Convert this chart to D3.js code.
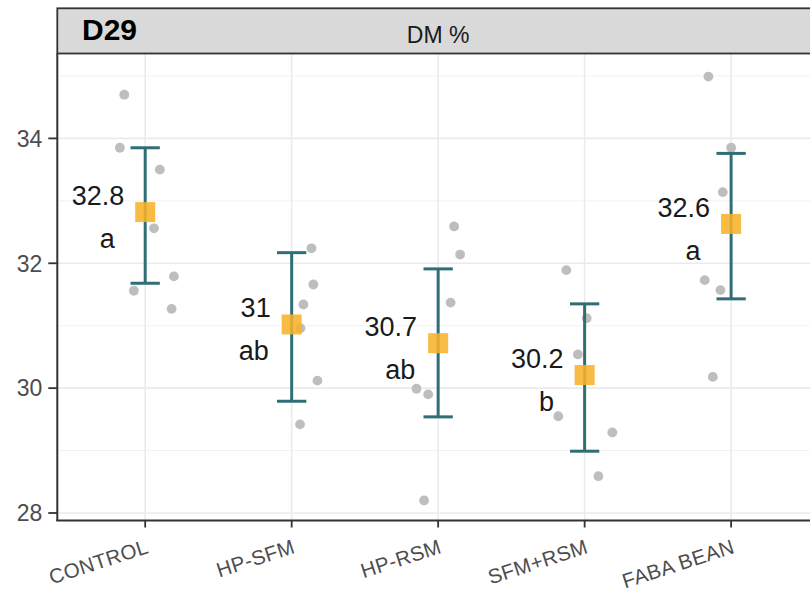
<!DOCTYPE html>
<html>
<head>
<meta charset="utf-8">
<script src="https://cdn.jsdelivr.net/npm/d3@7"></script>
<style>
  html, body { margin: 0; padding: 0; background: #fff; }
  svg { display: block; font-family: "Liberation Sans", Arial, sans-serif; }
</style>
</head>
<body>
<svg id="chart" width="810" height="594"></svg>
<script>
// ---- data ----
const categories = ["CONTROL", "HP-SFM", "HP-RSM", "SFM+RSM", "FABA BEAN"];
const means = [32.82, 31.02, 30.72, 30.21, 32.63];
const lower = [31.68, 29.79, 29.54, 28.99, 31.43];
const upper = [33.85, 32.17, 31.91, 31.35, 33.76];
const meanLabels = ["32.8", "31", "30.7", "30.2", "32.6"];
const groupLetters = ["a", "ab", "ab", "b", "a"];
// individual observations per category
const obsValues = [
  [34.70, 33.85, 33.50, 32.56, 31.79, 31.56, 31.27],
  [32.24, 31.66, 31.34, 30.96, 30.12, 29.42],
  [32.59, 32.14, 31.37, 29.99, 29.90, 28.20],
  [31.89, 31.12, 30.54, 29.55, 29.29, 28.59],
  [34.99, 33.85, 33.14, 31.73, 31.57, 30.18]
];
// horizontal jitter of each observation (in category units)
const obsJitter = [
  [-0.143, -0.173, 0.10, 0.06, 0.196, -0.077, 0.18],
  [0.135, 0.148, 0.08, 0.06, 0.176, 0.057],
  [0.109, 0.15, 0.085, -0.148, -0.068, -0.096],
  [-0.125, 0.014, -0.046, -0.18, 0.189, 0.094],
  [-0.155, 0.0, -0.057, -0.18, -0.073, -0.125]
];
const yTicks = [28, 30, 32, 34];
const yMinorTicks = [29, 31, 33, 35];
const panelTag = "D29";
const stripTitle = "DM %";

// ---- layout ----
const svg = d3.select("#chart");
const panel = { left: 57.3, right: 819, top: 53.5, bottom: 520.5 };
const strip = { top: 8.3 };

const x = d3.scaleLinear().domain([0.4, categories.length + 0.6]).range([panel.left, panel.right]);
const y = d3.scaleLinear().domain([27.88, 35.36]).range([panel.bottom, panel.top]);

const idx = categories.map((c, i) => i + 1);

// grid
const grid = svg.append("g");
grid.selectAll("line.minor").data(yMinorTicks).enter().append("line")
  .attr("x1", panel.left).attr("x2", panel.right)
  .attr("y1", d => y(d)).attr("y2", d => y(d))
  .attr("stroke", "#f2f2f2").attr("stroke-width", 1);
grid.selectAll("line.majory").data(yTicks).enter().append("line")
  .attr("x1", panel.left).attr("x2", panel.right)
  .attr("y1", d => y(d)).attr("y2", d => y(d))
  .attr("stroke", "#ebebeb").attr("stroke-width", 1.6);
grid.selectAll("line.majorx").data(idx).enter().append("line")
  .attr("x1", d => x(d)).attr("x2", d => x(d))
  .attr("y1", panel.top).attr("y2", panel.bottom)
  .attr("stroke", "#ebebeb").attr("stroke-width", 1.6);

// observation points
const pts = [];
obsValues.forEach((vals, i) => vals.forEach((v, j) => pts.push({ xi: i + 1 + obsJitter[i][j], v })));
svg.append("g").selectAll("circle").data(pts).enter().append("circle")
  .attr("cx", d => x(d.xi)).attr("cy", d => y(d.v)).attr("r", 4.9)
  .attr("fill", "#bebebe");

// error bars
const teal = "#2e6e74";
const eb = svg.append("g").attr("stroke", teal).attr("stroke-width", 3).attr("fill", "none");
const capHalf = 0.1;
categories.forEach((c, i) => {
  const xi = i + 1;
  eb.append("line").attr("x1", x(xi)).attr("x2", x(xi)).attr("y1", y(lower[i])).attr("y2", y(upper[i]));
  eb.append("line").attr("x1", x(xi - capHalf)).attr("x2", x(xi + capHalf)).attr("y1", y(upper[i])).attr("y2", y(upper[i]));
  eb.append("line").attr("x1", x(xi - capHalf)).attr("x2", x(xi + capHalf)).attr("y1", y(lower[i])).attr("y2", y(lower[i]));
});

// mean squares
const sq = 20;
svg.append("g").selectAll("rect").data(means).enter().append("rect")
  .attr("x", (d, i) => x(i + 1) - sq / 2).attr("y", d => y(d) - sq / 2)
  .attr("width", sq).attr("height", sq)
  .attr("fill", "#f7b22a").attr("fill-opacity", 0.88);

// mean labels
svg.append("g").selectAll("text").data(meanLabels).enter().append("text")
  .attr("x", (d, i) => x(i + 1) - 21).attr("y", (d, i) => y(means[i]) - 7)
  .attr("text-anchor", "end").attr("font-size", 27).attr("fill", "#1a1a1a")
  .text(d => d);
svg.append("g").selectAll("text").data(groupLetters).enter().append("text")
  .attr("x", (d, i) => x(i + 1) - 38).attr("y", (d, i) => y(means[i]) + 36)
  .attr("text-anchor", "middle").attr("font-size", 27).attr("fill", "#1a1a1a")
  .text(d => d);

// axes lines
svg.append("line").attr("x1", panel.left).attr("x2", panel.left).attr("y1", panel.top).attr("y2", panel.bottom + 0.5)
  .attr("stroke", "#333").attr("stroke-width", 2);
svg.append("line").attr("x1", panel.left - 1).attr("x2", 810).attr("y1", panel.bottom).attr("y2", panel.bottom)
  .attr("stroke", "#333").attr("stroke-width", 2);

// y ticks
const yt = svg.append("g");
yt.selectAll("line").data(yTicks).enter().append("line")
  .attr("x1", panel.left - 9).attr("x2", panel.left).attr("y1", d => y(d)).attr("y2", d => y(d))
  .attr("stroke", "#333").attr("stroke-width", 1.8);
yt.selectAll("text").data(yTicks).enter().append("text")
  .attr("x", panel.left - 15).attr("y", d => y(d)).attr("dy", "0.36em")
  .attr("text-anchor", "end").attr("font-size", 23).attr("fill", "#4d4d4d")
  .text(d => d);

// x ticks
const xt = svg.append("g");
xt.selectAll("line").data(idx).enter().append("line")
  .attr("x1", d => x(d)).attr("x2", d => x(d)).attr("y1", panel.bottom).attr("y2", panel.bottom + 7)
  .attr("stroke", "#333").attr("stroke-width", 1.8);
xt.selectAll("text").data(categories).enter().append("text")
  .attr("transform", (d, i) => `translate(${x(i + 1)},${panel.bottom + 18}) rotate(-18)`)
  .attr("dy", "0.72em")
  .attr("text-anchor", "end").attr("font-size", 20.5).attr("fill", "#4d4d4d")
  .attr("letter-spacing", "0.4")
  .text(d => d);

// strip
svg.append("rect").attr("x", panel.left).attr("y", strip.top)
  .attr("width", 830 - panel.left).attr("height", panel.top - strip.top)
  .attr("fill", "#d9d9d9").attr("stroke", "#333").attr("stroke-width", 1.8);
svg.append("text").attr("x", (panel.left + panel.right) / 2).attr("y", 43)
  .attr("text-anchor", "middle").attr("font-size", 23).attr("fill", "#1a1a1a")
  .text(stripTitle);
svg.append("text").attr("x", 82).attr("y", 40)
  .attr("font-size", 30).attr("font-weight", "bold").attr("fill", "#000")
  .text(panelTag);
</script>
</body>
</html>
